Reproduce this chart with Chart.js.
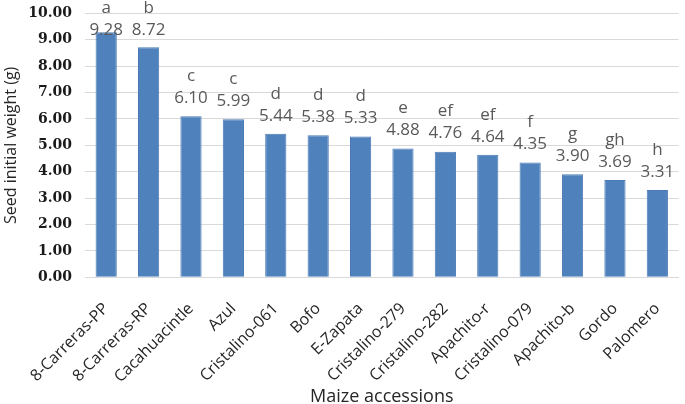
<!DOCTYPE html>
<html>
<head>
<meta charset="utf-8">
<script src="https://cdn.jsdelivr.net/npm/chart.js@4/dist/chart.umd.min.js"></script>
<style>
    body { margin: 0; background: #fff; }
    #wrap { width: 685px; height: 404px; }
</style>
</head>
<body>
<div id="wrap"><canvas id="myChart" width="685" height="404"></canvas></div>
<script>
const accessions = [
    '8-Carreras-PP', '8-Carreras-RP', 'Cacahuacintle', 'Azul', 'Cristalino-061',
    'Bofo', 'E-Zapata', 'Cristalino-279', 'Cristalino-282', 'Apachito-r',
    'Cristalino-079', 'Apachito-b', 'Gordo', 'Palomero'
];
const weights = [9.28, 8.72, 6.10, 5.99, 5.44, 5.38, 5.33, 4.88, 4.76, 4.64, 4.35, 3.90, 3.69, 3.31];
const groups = ['a', 'b', 'c', 'c', 'd', 'd', 'd', 'e', 'ef', 'ef', 'f', 'g', 'gh', 'h'];
const yTicks = [0, 1, 2, 3, 4, 5, 6, 7, 8, 9, 10];

// value + letter above each bar
const barLabels = {
    id: 'barLabels',
    afterDatasetsDraw(chart) {
        const ctx = chart.ctx;
        const meta = chart.getDatasetMeta(0);
        ctx.save();
        ctx.textAlign = 'center';
        ctx.textBaseline = 'middle';
        ctx.fillStyle = '#595959';
        ctx.font = '17px "Open Sans"';
        meta.data.forEach((bar, i) => {
            let vy = Math.max(bar.y - 18, 30);
            let ly = Math.max(vy - 22, 8);
            ctx.fillText(weights[i].toFixed(2), bar.x, vy);
            ctx.fillText(groups[i], bar.x, ly);
        });
        ctx.restore();
    }
};

new Chart(document.getElementById('myChart').getContext('2d'), {
    type: 'bar',
    data: {
        labels: accessions,
        datasets: [{
            data: weights,
            backgroundColor: '#4f81bd',
            borderColor: '#4a7ab3',
            borderWidth: 1,
            barPercentage: 0.5,
            categoryPercentage: 1
        }]
    },
    options: {
        responsive: false,
        animation: false,
        layout: { padding: { top: 0, right: 2, left: 2, bottom: 0 } },
        plugins: {
            legend: { display: false },
            tooltip: { enabled: false }
        },
        scales: {
            x: {
                grid: { display: false },
                border: { color: '#d9d9d9' },
                afterFit(axis) {
                    axis.height -= 15;
                    axis.paddingLeft = 0;
                },
                ticks: {
                    color: '#262626',
                    font: { family: 'Open Sans', size: 16 },
                    maxRotation: 45,
                    minRotation: 45,
                    padding: 14
                },
                title: {
                    display: true,
                    text: 'Maize accessions',
                    color: '#262626',
                    font: { family: 'Open Sans', size: 18, lineHeight: 0.8 },
                    padding: { top: 4, bottom: 0 }
                }
            },
            y: {
                min: 0,
                max: 10,
                afterBuildTicks(axis) {
                    axis.ticks = yTicks.map(v => ({ value: v }));
                },
                afterFit(axis) {
                    axis.width = 83;
                },
                grid: { color: '#d9d9d9', drawTicks: false },
                border: { display: false },
                ticks: {
                    color: '#1a1a1a',
                    font: { family: 'DejaVu Serif', size: 14, weight: 'bold', lineHeight: 0.05 },
                    padding: 13,
                    callback: v => Number(v).toFixed(2)
                },
                title: {
                    display: true,
                    text: 'Seed initial weight (g)',
                    color: '#262626',
                    font: { family: 'Open Sans', size: 16 },
                    padding: { top: 0, bottom: 4 }
                }
            }
        }
    },
    plugins: [barLabels]
});
</script>
</body>
</html>
